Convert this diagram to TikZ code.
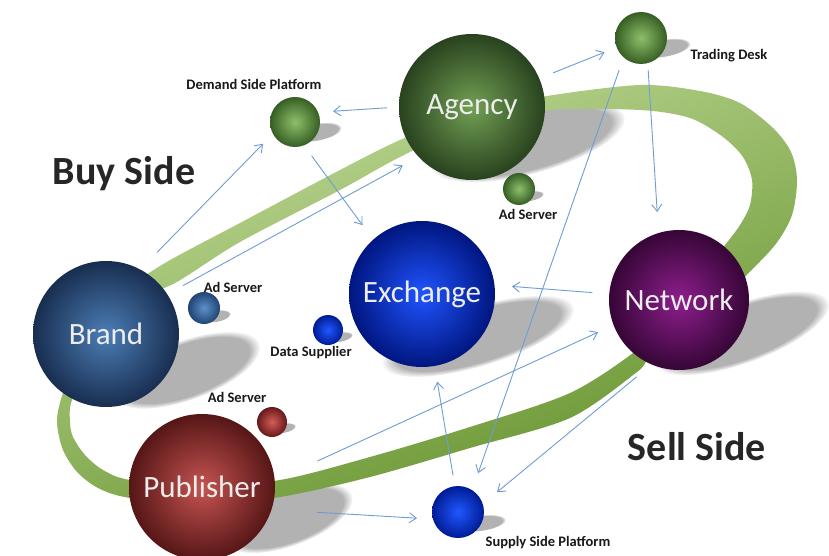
\documentclass[tikz,border=0pt]{standalone}
\usepackage{fontspec}
\setmainfont{Carlito}
\usetikzlibrary{arrows.meta,fadings}
\definecolor{arrowblue}{RGB}{112,156,212}
\definecolor{ringlight}{RGB}{192,218,152}
\definecolor{ringdark}{RGB}{100,146,44}
\definecolor{labelgray}{RGB}{38,38,38}
\definecolor{agencylight}{RGB}{114,160,84}
\definecolor{agencydark}{RGB}{40,66,30}
\definecolor{greenlight}{RGB}{142,192,106}
\definecolor{greendark}{RGB}{54,94,36}
\definecolor{brandlight}{RGB}{76,126,182}
\definecolor{branddark}{RGB}{24,46,80}
\definecolor{adbluelight}{RGB}{94,144,202}
\definecolor{adbluedark}{RGB}{32,68,116}
\definecolor{exchlight}{RGB}{32,84,255}
\definecolor{exchdark}{RGB}{0,22,128}
\definecolor{bluelight}{RGB}{32,88,255}
\definecolor{bluedark}{RGB}{0,28,150}
\definecolor{netlight}{RGB}{142,30,142}
\definecolor{netdark}{RGB}{54,6,54}
\definecolor{publight}{RGB}{198,84,82}
\definecolor{pubdark}{RGB}{86,22,22}
\definecolor{adredlight}{RGB}{212,92,90}
\definecolor{adreddark}{RGB}{102,26,26}
\tikzset{
  sphere/.style 2 args={circle, inner sep=0pt, outer sep=0pt, inner color=#1, outer color=#2, text=white!93!black, font=\fontsize{31}{31}\selectfont},
  smalltag/.style={font=\bfseries\fontsize{14.5}{14.5}\selectfont, text=black!90, inner sep=1pt},
  sidelabel/.style={font=\bfseries\fontsize{40}{40}\selectfont, text=labelgray},
  flow/.style={-{Straight Barb[length=7pt,width=10pt]}, line width=0.9pt, draw=arrowblue},
  floorshadow/.style={fill=black!30, path fading=circle with fuzzy edge 15 percent}
}

\begin{document}
\begin{tikzpicture}[x=1pt, y=-1pt]
  \fill[white] (0,0) rectangle (829,556);
  \useasboundingbox (0,0) rectangle (829,556);

  % Shadows on the floor
  \foreach \cx/\cy/\rx/\ry/\ang in {528/142/100/32/15, 316/132/26/9/10, 664/48/27/9/10,
      530/196/14/5/10, 478/336/100/30/17, 742/333/92/30/20, 186/370/78/30/20,
      216/316/15/6/10, 339/337/14/5/10, 288/518/68/28/20, 283/428/13/5/10, 481/523/25/8/8}
    \fill[floorshadow, transform canvas={rotate around={\ang:(\cx,\cy)}}] (\cx,\cy) ellipse [x radius=\rx, y radius=\ry];

  % The ring (outer edge, then inner edge)
  \shade[top color=ringlight, bottom color=ringdark, shading angle=20, even odd rule]
    plot[smooth cycle] coordinates {(57,422) (62,396) (80,350) (112,302) (160,266) (240,223)
      (340,170) (400,140) (470,112) (547,96) (640,85) (700,91) (740,103) (773,128) (791,152)
      (797,180) (792,215) (775,245) (740,282) (700,325) (650,358) (637,372) (570,418)
      (470,448) (370,477) (280,497) (200,505) (130,498) (100,489) (78,473) (63,450)}
    plot[smooth cycle] coordinates {(70,422) (72,400) (95,350) (125,305) (175,283) (240,242)
      (340,190) (400,157) (470,125) (547,110) (640,110) (690,118) (723,137) (743,157)
      (752,180) (750,205) (740,225) (725,245) (700,275) (665,320) (637,350) (570,393)
      (470,427) (370,457) (280,480) (200,485) (130,480) (103,470) (85,455) (73,437)};

  % Spheres (nodes)
  \node[sphere={agencylight}{agencydark}, minimum size=146pt] (agency) at (472,107) {Agency};
  \node[sphere={greenlight}{greendark}, minimum size=50pt] (dsp) at (295,122) {};
  \node[sphere={greenlight}{greendark}, minimum size=52pt] (desk) at (641,38) {};
  \node[sphere={greenlight}{greendark}, minimum size=32pt] (agencyad) at (519,189) {};
  \node[sphere={exchlight}{exchdark}, minimum size=146pt] (exchange) at (422,294) {Exchange};
  \node[sphere={netlight}{netdark}, minimum size=140pt] (network) at (679,300) {Network};
  \node[sphere={brandlight}{branddark}, minimum size=146pt] (brand) at (106,334) {Brand};
  \node[sphere={adbluelight}{adbluedark}, minimum size=32pt] (brandad) at (204,308) {};
  \node[sphere={bluelight}{bluedark}, minimum size=30pt] (data) at (328,330) {};
  \node[sphere={publight}{pubdark}, minimum size=146pt] (publisher) at (202,487) {Publisher};
  \node[sphere={adredlight}{adreddark}, minimum size=30pt] (pubad) at (272,422) {};
  \node[sphere={bluelight}{bluedark}, minimum size=52pt] (ssp) at (458,512) {};

  % Labels
  \node[smalltag] (dsplabel) at (254,84) {Demand Side Platform};
  \node[smalltag] (desklabel) at (729,56) {Trading Desk};
  \node[smalltag] (agencyadlabel) at (528,214) {Ad Server};
  \node[smalltag] (brandadlabel) at (233,287) {Ad Server};
  \node[smalltag] (datalabel) at (311,353) {Data Supplier};
  \node[smalltag] (pubadlabel) at (237,397) {Ad Server};
  \node[smalltag] (ssplabel) at (548,543) {Supply Side Platform};
  \node[sidelabel] (buyside) at (124,174) {Buy Side};
  \node[sidelabel] (sellside) at (697,447) {Sell Side};

  % Money and inventory flows
  \draw[flow, shorten <=24pt, shorten >=14pt] (brand.62) -- (dsp.208);
  \draw[flow, shorten <=18pt, shorten >=18pt] (brand.33) -- (agency.223);
  \draw[flow, shorten <=12pt, shorten >=15pt] (agency.180) -- (dsp.23);
  \draw[flow, shorten <=13pt, shorten >=18pt] (dsp.291) -- (exchange.132);
  \draw[flow, shorten <=15pt, shorten >=13pt] (agency.23) -- (desk.201);
  \draw[flow, shorten <=7pt, shorten >=21pt] (desk.285) -- (network.107);
  \draw[flow, shorten <=13.5pt, shorten >=18pt] (desk.228) -- (ssp.57);
  \draw[flow, shorten <=17pt, shorten >=17.5pt] (network.175) -- (exchange.7);
  \draw[flow, shorten <=47pt, shorten >=17pt] (publisher.5) -- (network.201);
  \draw[flow, shorten <=11pt, shorten >=16pt] (ssp.97) -- (exchange.280);
  \draw[flow, shorten <=19.5pt, shorten >=18.5pt] (network.247) -- (ssp.18);
  \draw[flow, shorten <=45.5pt, shorten >=16pt] (publisher.342) -- (ssp.196);
\end{tikzpicture}
\end{document}
